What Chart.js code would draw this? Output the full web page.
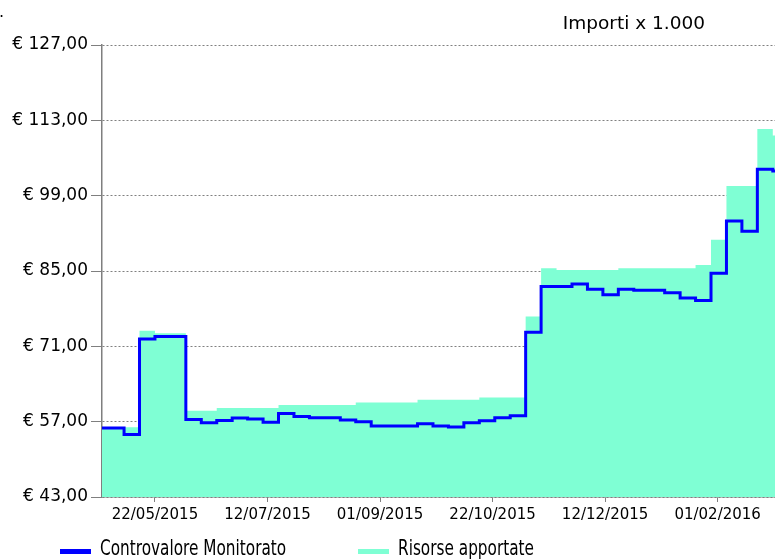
<!DOCTYPE html>
<html>
<head>
<meta charset="utf-8">
<script src="https://cdn.jsdelivr.net/npm/chart.js@4/dist/chart.umd.min.js"></script>
<style>
  html, body { margin: 0; padding: 0; background: #ffffff; }
  canvas { display: block; }
</style>
</head>
<body>
<canvas id="c" width="775" height="559"></canvas>
<script>
// ---- Data ----
const dates = [
  '28/04/2015','08/05/2015','15/05/2015','22/05/2015','29/05/2015','05/06/2015','12/06/2015','19/06/2015',
  '26/06/2015','03/07/2015','10/07/2015','17/07/2015','24/07/2015','31/07/2015','07/08/2015','14/08/2015',
  '21/08/2015','28/08/2015','04/09/2015','11/09/2015','18/09/2015','25/09/2015','02/10/2015','09/10/2015',
  '16/10/2015','23/10/2015','30/10/2015','06/11/2015','13/11/2015','20/11/2015','27/11/2015','04/12/2015',
  '11/12/2015','18/12/2015','25/12/2015','01/01/2016','08/01/2016','15/01/2016','22/01/2016','29/01/2016',
  '05/02/2016','12/02/2016','19/02/2016','26/02/2016'
];
const controvaloreMonitorato = [
  55.8, 54.6, 72.35, 72.85, 72.85, 57.4, 56.8, 57.2,
  57.7, 57.5, 56.9, 58.5, 57.95, 57.75, 57.75, 57.3,
  57.0, 56.2, 56.2, 56.2, 56.6, 56.2, 56.0, 56.8,
  57.15, 57.75, 58.1, 73.6, 82.1, 82.1, 82.6, 81.6,
  80.6, 81.6, 81.4, 81.4, 80.95, 80.0, 79.5, 84.6,
  94.3, 92.4, 103.9, 103.6
];
const risorseApportate = [
  55.95, 55.95, 73.9, 73.45, 73.45, 59.05, 59.05, 59.55,
  59.55, 59.55, 59.55, 60.1, 60.1, 60.1, 60.1, 60.1,
  60.55, 60.55, 60.55, 60.55, 61.05, 61.05, 61.05, 61.05,
  61.5, 61.5, 61.5, 76.55, 85.5, 85.2, 85.2, 85.2,
  85.2, 85.5, 85.5, 85.5, 85.5, 85.5, 86.1, 90.8,
  100.8, 100.8, 111.4, 110.2
];
const seriesLabels = ['Controvalore Monitorato', 'Risorse apportate'];
const xTickLabels = ['22/05/2015','12/07/2015','01/09/2015','22/10/2015','12/12/2015','01/02/2016'];
const axisStart = '28/04/2015';
const axisEnd = '27/02/2016';
const yMin = 43, yMax = 127, yStep = 14;
const unitNote = 'Importi x 1.000';

// ---- helpers ----
function dayNum(s) {
  const [d, m, y] = s.split('/').map(Number);
  return Math.round((Date.UTC(y, m - 1, d) - Date.UTC(2015, 4, 22)) / 86400000);
}
const xTickDays = xTickLabels.map(dayNum);
const xMin = dayNum(axisStart), xMax = dayNum(axisEnd);
function toPoints(vals) {
  const pts = dates.map((d, i) => ({ x: dayNum(d), y: vals[i] }));
  pts.push({ x: xMax, y: vals[vals.length - 1] });
  return pts;
}

const BLUE = '#0000ff';
const AQUA = '#7fffd4';
const AXIS = '#7f7f7f';

const extras = {
  id: 'extras',
  afterDraw(chart) {
    const ctx = chart.ctx, a = chart.chartArea;
    ctx.save();
    ctx.fillStyle = '#000';
    ctx.font = '18.5px "DejaVu Sans", Verdana, sans-serif';
    ctx.textAlign = 'right';
    ctx.textBaseline = 'alphabetic';
    ctx.fillText(unitNote, a.right - 70, 29);
    ctx.textAlign = 'left';
    ctx.font = '16px "DejaVu Sans", sans-serif';
    ctx.fillText('.', -1, 17);
    // legend
    const items = chart.data.datasets.map(ds => ({ text: ds.label, color: ds.legendColor }));
    const boxX = [60, 358];
    ctx.font = '21px "DejaVu Sans Condensed", "DejaVu Sans", sans-serif';
    ctx.textBaseline = 'middle';
    items.forEach((it, i) => {
      ctx.fillStyle = it.color;
      ctx.fillRect(boxX[i], 549, 31, 5);
      ctx.fillStyle = '#000';
      ctx.save();
      ctx.translate(boxX[i] + 40, 550);
      ctx.scale(0.81, 1);
      ctx.fillText(it.text, 0, 0);
      ctx.restore();
    });
    ctx.restore();
  }
};

new Chart(document.getElementById('c'), {
  type: 'line',
  data: {
    datasets: [
      {
        label: seriesLabels[0],
        data: toPoints(controvaloreMonitorato),
        borderColor: BLUE,
        legendColor: BLUE,
        borderWidth: 3,
        stepped: true,
        pointRadius: 0,
        fill: false
      },
      {
        label: seriesLabels[1],
        data: toPoints(risorseApportate),
        borderColor: AQUA,
        backgroundColor: AQUA,
        legendColor: AQUA,
        borderWidth: 0,
        stepped: true,
        pointRadius: 0,
        fill: 'start'
      }
    ]
  },
  options: {
    responsive: false,
    devicePixelRatio: 1,
    animation: false,
    layout: { padding: { top: 45, right: 0, bottom: 0, left: 0 } },
    plugins: {
      legend: { display: false },
      tooltip: { enabled: false },
      title: { display: false }
    },
    scales: {
      x: {
        type: 'linear',
        min: xMin,
        max: xMax,
        afterBuildTicks: (scale) => { scale.ticks = xTickDays.map(v => ({ value: v })); },
        afterFit: (scale) => { scale.height = 62; },
        ticks: {
          autoSkip: false,
          maxRotation: 0,
          padding: 4,
          color: '#000',
          font: { family: '"DejaVu Sans", Verdana, sans-serif', size: 15 },
          callback: (v) => { const i = xTickDays.indexOf(v); return i >= 0 ? xTickLabels[i] : ''; }
        },
        grid: { drawOnChartArea: false, drawTicks: true, tickLength: 5, tickColor: AXIS, tickWidth: 1 },
        border: { display: true, color: AXIS, width: 1.5 }
      },
      y: {
        type: 'linear',
        min: yMin,
        max: yMax,
        afterFit: (scale) => { scale.width = 102; },
        ticks: {
          stepSize: yStep,
          padding: 3,
          color: '#000',
          font: { family: '"DejaVu Sans", Verdana, sans-serif', size: 17 },
          callback: (v) => '€ ' + Number(v).toFixed(2).replace('.', ',')
        },
        grid: {
          color: '#808080',
          lineWidth: 1,
          drawTicks: true,
          tickLength: 11,
          tickColor: AXIS,
          tickBorderDash: [1, 0],
          tickWidth: 1
        },
        border: { display: true, color: AXIS, width: 1.5, dash: [2, 2] }
      }
    }
  },
  plugins: [extras]
});
</script>
</body>
</html>
